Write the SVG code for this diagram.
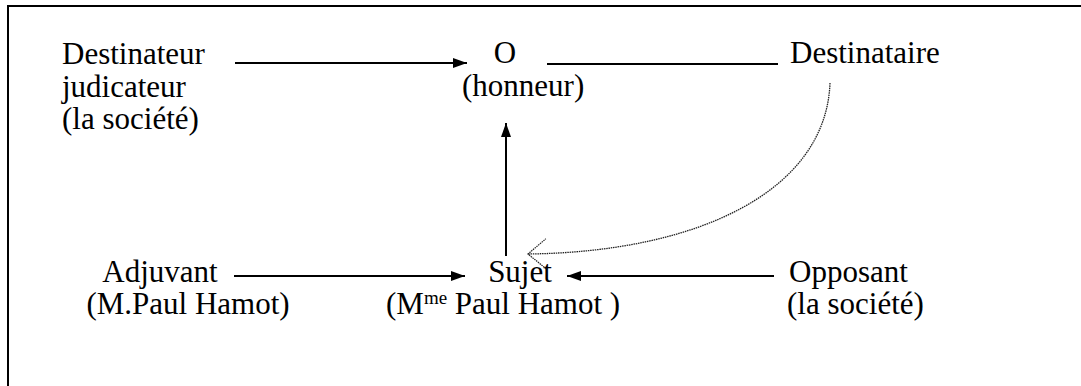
<svg xmlns="http://www.w3.org/2000/svg" width="1081" height="386" viewBox="0 0 1081 386">
<style>
.t{font-size:31px;fill:#000}
.c{text-anchor:middle}
.ln{stroke:#000;stroke-width:2;fill:none}
.dot{stroke:#222;stroke-width:1.3;fill:none;stroke-dasharray:1.5 0.8}
</style>
<defs>
<marker id="ah" viewBox="0 0 14 10" refX="14" refY="5" markerWidth="14" markerHeight="10" markerUnits="userSpaceOnUse" orient="auto">
<path d="M0,0 L14,5 L0,10 Z" fill="#000"/>
</marker>
<marker id="oh" viewBox="0 0 20 32" refX="19" refY="16" markerWidth="20" markerHeight="32" markerUnits="userSpaceOnUse" orient="auto">
<path d="M1,1 L19,16 L1,31" fill="none" stroke="#222" stroke-width="1.2" stroke-dasharray="1.5 0.8"/>
</marker>
</defs>
<g id="frame">
<path class="ln" d="M8,386 L8,6 L1081,6"/>
</g>
<g class="t" font-family="Liberation Serif, DejaVu Serif, serif">
<g id="destinateur"><text x="62" y="64">Destinateur</text><text x="62" y="97">judicateur</text><text x="62" y="129">(la société)</text></g>
<g id="objet"><text class="c" x="505" y="63">O</text><text x="462" y="96">(honneur)</text></g>
<g id="destinataire"><text x="790" y="63">Destinataire</text></g>
<g id="adjuvant"><text class="c" x="160" y="282">Adjuvant</text><text class="c" x="188" y="314">(M.Paul Hamot)</text></g>
<g id="sujet"><text class="c" x="520" y="282">Sujet</text><text x="386" y="314">(M<tspan font-size="19" dy="-10">me</tspan><tspan dy="10"> Paul Hamot )</tspan></text></g>
<g id="opposant"><text x="789" y="282">Opposant</text><text x="787" y="314">(la société)</text></g>
</g>
<g id="connectors">
<line class="ln" x1="235" y1="63" x2="467" y2="63" marker-end="url(#ah)"/>
<line class="ln" x1="547" y1="64" x2="778" y2="64"/>
<line class="ln" x1="506" y1="256" x2="506" y2="123" marker-end="url(#ah)"/>
<line class="ln" x1="234" y1="276" x2="465" y2="276" marker-end="url(#ah)"/>
<line class="ln" x1="774" y1="276" x2="567" y2="276" marker-end="url(#ah)"/>
<path class="dot" d="M830,83 C826,190 700,252 528,254" marker-end="url(#oh)"/>
</g>
</svg>
